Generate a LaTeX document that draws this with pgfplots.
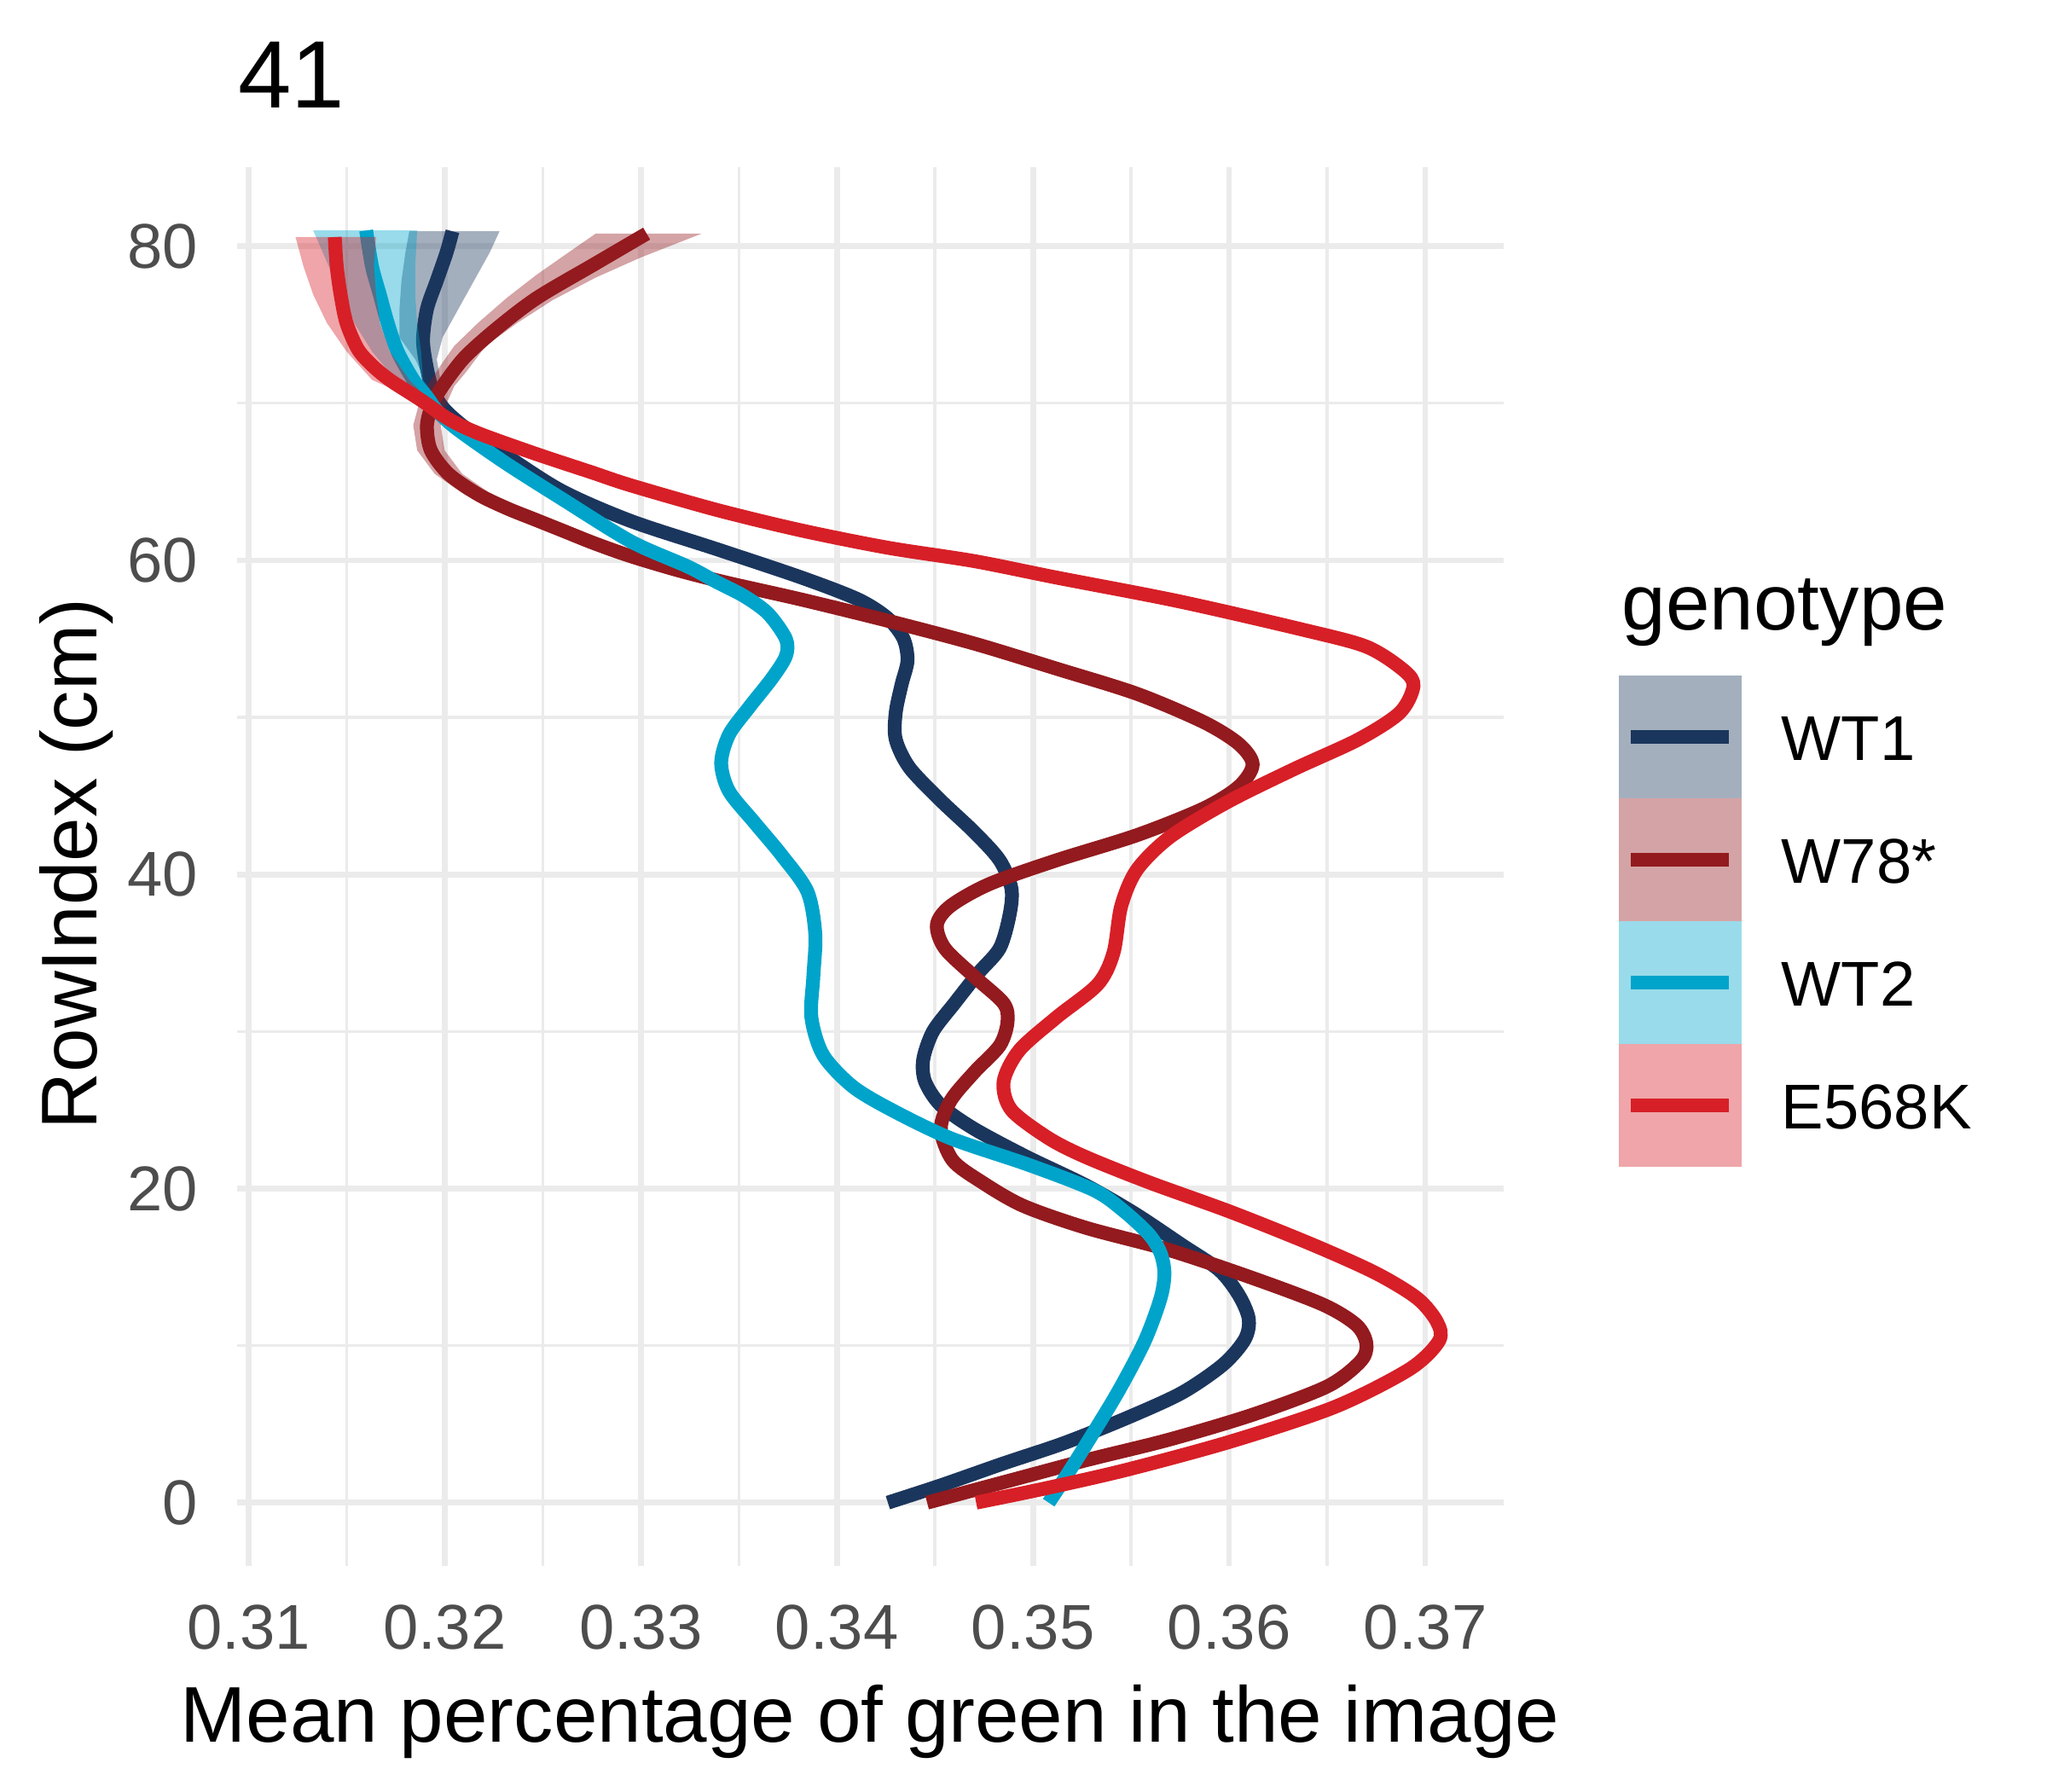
\documentclass[border=0pt]{standalone}
\usepackage{fontspec}
\setmainfont{Liberation Sans}
\usepackage{pgfplots}
\pgfplotsset{compat=1.18}
\definecolor{cWTa}{HTML}{1B365D}
\definecolor{cW78}{HTML}{931A1E}
\definecolor{cWTb}{HTML}{00A4CA}
\definecolor{cE}{HTML}{D71F27}
\definecolor{gridc}{HTML}{EBEBEB}
\definecolor{tickc}{HTML}{4D4D4D}
\begin{document}
\begin{tikzpicture}
\path[use as bounding box] (0,0) rectangle (391.3pt,342.4pt);
\begin{axis}[
  at={(45.25pt,43.0pt)}, anchor=south west,
  width=242.2pt, height=267.5pt, scale only axis,
  xmin=0.3094, xmax=0.3740, ymin=-4.05, ymax=85.05,
  axis line style={draw=none},
  major tick length=0pt, minor tick length=0pt,
  scaled ticks=false,
  xtick={0.31,0.32,0.33,0.34,0.35,0.36,0.37},
  xticklabels={0.31,0.32,0.33,0.34,0.35,0.36,0.37},
  minor xtick={0.315,0.325,0.335,0.345,0.355,0.365},
  ytick={0,20,40,60,80},
  yticklabels={0,20,40,60,80},
  minor ytick={10,30,50,70},
  grid=both,
  major grid style={gridc, line width=1.1pt},
  minor grid style={gridc, line width=0.55pt},
  x tick label style={font=\fontsize{12.1}{14}\selectfont, text=tickc, inner sep=0pt, anchor=base, yshift=-15.8pt},
  y tick label style={font=\fontsize{12.1}{14}\selectfont, text=tickc, inner sep=0pt, anchor=east, xshift=-7.25pt},
]
% ---------------- WT1 ----------------
\addplot[draw=none, fill=cWTa, fill opacity=0.4] coordinates {
(0.3196,70.0) (0.3185,72.8) (0.3177,74.2) (0.3177,76.0) (0.3178,77.8) (0.3180,79.6) (0.3182,80.95)
(0.3228,80.95) (0.3223,79.6) (0.3215,77.8) (0.3207,76.0) (0.3199,74.2) (0.3196,72.8) (0.3200,70.0)
} -- cycle;
\addplot[cWTa, line width=2.65pt, smooth, line join=round] coordinates {
(0.3426,0.0) (0.3453,1.1) (0.3485,2.5) (0.3516,3.8) (0.3548,5.4) (0.3576,7.0) (0.3597,8.8)
(0.3608,10.4) (0.3610,11.7) (0.3605,13.2) (0.3595,14.8) (0.3576,16.4) (0.3552,18.4) (0.3527,20.2)
(0.3497,22.0) (0.3470,23.8) (0.3453,25.3) (0.3445,26.8) (0.3444,28.2) (0.3449,30.0) (0.3460,31.8)
(0.3472,33.7) (0.3483,35.3) (0.3488,37.4) (0.3489,39.1) (0.3483,40.9) (0.3470,42.7) (0.3453,44.7)
(0.3437,46.8) (0.3430,48.6) (0.3430,50.3) (0.3433,52.1) (0.3436,53.6) (0.3434,55.0) (0.3426,56.3)
(0.3411,57.5) (0.3382,58.9) (0.3339,60.7) (0.3295,62.5) (0.3260,64.4) (0.3231,66.7)
(0.3212,68.3) (0.3200,69.6) (0.3194,70.8) (0.3191,72.2) (0.3189,74.0) (0.3191,76.0) (0.3196,77.8)
(0.3201,79.6) (0.3204,80.95)
};
% ---------------- W78* ----------------
\addplot[draw=none, fill=cW78, fill opacity=0.4] coordinates {
(0.3225,63.3) (0.3210,64.2) (0.3195,65.5) (0.3186,67.0) (0.3184,68.6) (0.3187,70.0) (0.3191,71.1)
(0.3199,72.6) (0.3205,73.66) (0.3217,75.11) (0.3232,76.74) (0.3247,78.19) (0.3262,79.5) (0.3277,80.8)
(0.3331,80.8) (0.3300,79.28) (0.3277,78.0) (0.3255,76.56) (0.3237,75.11) (0.3221,73.66) (0.3211,72.0)
(0.3205,71.1) (0.3201,70.0) (0.3198,68.6) (0.3200,67.0) (0.3209,65.5) (0.3224,64.2) (0.3239,63.3)
} -- cycle;
\addplot[cW78, line width=2.65pt, smooth, line join=round] coordinates {
(0.3446,0.0) (0.3485,1.3) (0.3527,2.7) (0.3569,4.0) (0.3612,5.6) (0.3650,7.4) (0.3667,9.0)
(0.3670,10.1) (0.3665,11.3) (0.3648,12.6) (0.3612,14.3) (0.3569,16.1) (0.3527,17.5) (0.3495,18.9)
(0.3474,20.4) (0.3459,21.8) (0.3453,23.8) (0.3458,25.6) (0.3470,27.4) (0.3483,29.1) (0.3487,30.6)
(0.3485,31.8) (0.3470,33.5) (0.3455,35.3) (0.3451,36.8) (0.3458,38.0) (0.3478,39.4) (0.3512,40.9)
(0.3553,42.5) (0.3587,44.2) (0.3605,45.6) (0.3612,47.0) (0.3605,48.3) (0.3587,49.7) (0.3553,51.5)
(0.3512,53.1) (0.3470,54.7) (0.3426,56.15) (0.3382,57.5) (0.3343,58.6) (0.3318,59.4) (0.3294,60.3)
(0.3276,61.1) (0.3260,61.9) (0.3246,62.6) (0.3232,63.3) (0.3217,64.2) (0.3202,65.5) (0.3193,67.0)
(0.3191,68.6) (0.3194,70.0) (0.3199,71.1) (0.3210,72.9) (0.3226,74.7) (0.3247,76.7) (0.3277,78.9)
(0.3303,80.8)
};
% ---------------- WT2 ----------------
\addplot[draw=none, fill=cWTb, fill opacity=0.4] coordinates {
(0.3190,70.3) (0.3175,71.5) (0.3163,73.3) (0.3154,75.1) (0.3148,76.9) (0.3141,78.7) (0.3133,81.0)
(0.3186,81.0) (0.3185,78.7) (0.3185,76.9) (0.3186,75.1) (0.3188,73.3) (0.3189,71.5) (0.3196,70.3)
} -- cycle;
\addplot[cWTb, line width=2.65pt, smooth, line join=round] coordinates {
(0.3508,0.0) (0.3518,1.9) (0.3531,4.5) (0.3544,7.2) (0.3557,10.3) (0.3565,13.0) (0.3567,14.6)
(0.3565,15.9) (0.3559,17.1) (0.3546,18.6) (0.3531,19.9) (0.3498,21.5) (0.3458,23.2) (0.3428,25.0)
(0.3408,26.5) (0.3393,28.5) (0.3387,30.9) (0.3388,33.5) (0.3389,36.2) (0.3385,38.9) (0.3372,41.2)
(0.3358,43.3) (0.3345,45.3) (0.3341,47.1) (0.3345,48.9) (0.3355,50.6) (0.3367,52.5) (0.3374,53.9)
(0.3374,55.0) (0.3365,56.6) (0.3353,57.7) (0.3339,58.6) (0.3324,59.6) (0.3295,61.2) (0.3260,63.9)
(0.3231,66.2) (0.3207,68.3) (0.3197,69.4) (0.3191,70.4) (0.3184,71.5) (0.3176,73.3) (0.3171,75.1)
(0.3167,76.9) (0.3163,78.7) (0.3160,81.0)
};
% ---------------- E568K ----------------
\addplot[draw=none, fill=cE, fill opacity=0.4] coordinates {
(0.3186,70.2) (0.3163,71.49) (0.3150,73.3) (0.3140,75.11) (0.3133,76.92) (0.3128,78.73) (0.3124,80.58)
(0.3165,80.58) (0.3164,78.73) (0.3165,76.92) (0.3167,75.11) (0.3172,73.3) (0.3182,71.49) (0.3192,70.2)
} -- cycle;
\addplot[cE, line width=2.65pt, smooth, line join=round] coordinates {
(0.3471,0.0) (0.3506,0.9) (0.3548,2.1) (0.3601,3.9) (0.3654,6.1) (0.3692,8.5) (0.3707,10.3)
(0.3706,11.5) (0.3696,13.0) (0.3675,14.6) (0.3643,16.4) (0.3601,18.5) (0.3559,20.4) (0.3527,22.0)
(0.3508,23.2) (0.3489,25.0) (0.3485,26.8) (0.3493,28.8) (0.3512,30.9) (0.3533,33.0) (0.3541,35.0)
(0.3545,38.0) (0.3553,40.3) (0.3570,42.4) (0.3599,44.6) (0.3633,46.7) (0.3666,48.6) (0.3687,50.3)
(0.3694,52.0) (0.3689,53.0) (0.3670,54.5) (0.3637,55.6) (0.3574,57.4) (0.3512,58.9) (0.3470,59.95)
(0.3426,60.8) (0.3382,61.9) (0.3339,63.2) (0.3295,64.77) (0.3275,65.6) (0.3246,66.8) (0.3217,68.1)
(0.3202,69.0) (0.3188,70.2) (0.3173,71.4) (0.3164,72.3) (0.3156,73.4) (0.3150,75.1) (0.3147,76.9)
(0.3145,78.7) (0.3144,80.58)
};
\end{axis}
% titles
\node[anchor=base west, inner sep=0pt, font=\fontsize{18.3}{22}\selectfont] at (45.35pt,321.8pt) {41};
\node[anchor=base, inner sep=0pt, font=\fontsize{15.1}{18}\selectfont] at (166.3pt,9.4pt) {Mean percentage of green in the image};
\node[rotate=90, anchor=base, inner sep=0pt, font=\fontsize{15.1}{18}\selectfont] at (18.5pt,177.25pt) {RowIndex (cm)};
% legend
\node[anchor=base west, inner sep=0pt, font=\fontsize{15.1}{18}\selectfont] at (309.9pt,222.0pt) {genotype};
\fill[cWTa!40] (309.5pt,189.74pt) rectangle (332.9pt,213.2pt);
\fill[cW78!40] (309.5pt,166.28pt) rectangle (332.9pt,189.74pt);
\fill[cWTb!40] (309.5pt,142.81pt) rectangle (332.9pt,166.28pt);
\fill[cE!40] (309.5pt,119.35pt) rectangle (332.9pt,142.81pt);
\draw[cWTa, line width=2.6pt] (311.75pt,201.47pt) -- (330.5pt,201.47pt);
\draw[cW78, line width=2.6pt] (311.75pt,178.01pt) -- (330.5pt,178.01pt);
\draw[cWTb, line width=2.6pt] (311.75pt,154.54pt) -- (330.5pt,154.54pt);
\draw[cE, line width=2.6pt] (311.75pt,131.08pt) -- (330.5pt,131.08pt);
\begin{scope}[every node/.style={anchor=base west, inner sep=0pt, font=\fontsize{12.1}{14}\selectfont}]
\node at (340.35pt,197.07pt) {WT1};
\node at (340.35pt,173.61pt) {W78*};
\node at (340.35pt,150.14pt) {WT2};
\node at (340.35pt,126.68pt) {E568K};
\end{scope}
\end{tikzpicture}
\end{document}
